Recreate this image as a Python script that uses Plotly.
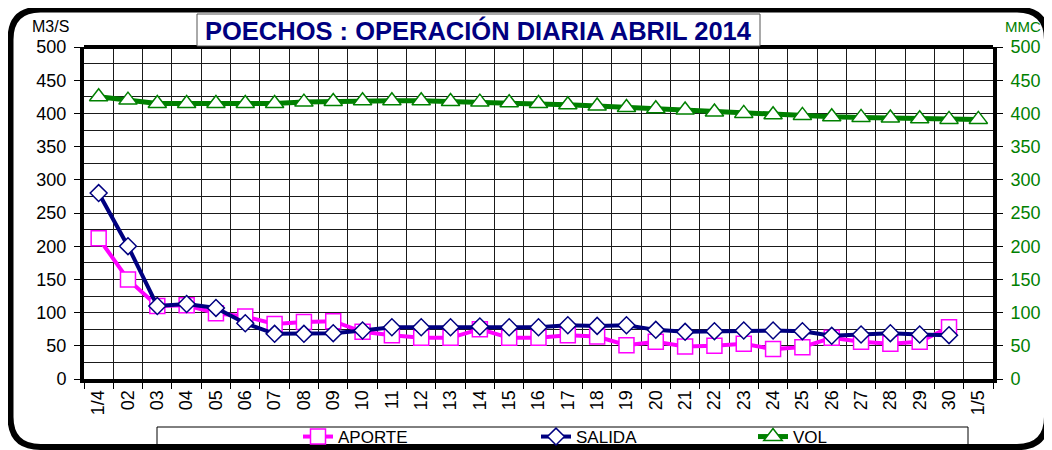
import plotly.graph_objects as go

categories = ["1/4"] + [f"{d:02d}" for d in range(2, 31)] + ["1/5"]
aporte = [212, 150, 110, 111, 99, 94, 83, 86, 87, 71, 66, 62, 62, 75, 62, 62, 66, 64, 51, 56, 49, 50, 53, 45, 48, 62, 56, 53, 56, 78]
salida = [280, 200, 110, 113, 107, 84, 68, 68, 69, 73, 78, 78, 78, 79, 78, 78, 81, 80, 81, 74, 71, 72, 73, 73, 72, 65, 67, 69, 67, 66]
vol = [425, 420, 415, 415, 415, 415, 415, 417, 418, 419, 419, 419, 418, 417, 416, 415, 413, 411, 409, 407, 405, 402, 400, 398, 397, 395, 394, 393, 392, 391, 391]

# page has an 8px body margin: figure drawn at (8, 8)
OFF = 8
W, H = 1052 - OFF, 450 - OFF
# plot area in page pixels
PL, PR, PT, PB = 84, 993, 47, 379
L, R, T, B = PL - OFF, PR - OFF, PT - OFF, PB - OFF

def px(x):  # page x -> paper
    return (x - PL) / (PR - PL)

def py(y):  # page y -> paper
    return (PB - y) / (PB - PT)

FONT = "Liberation Sans, Arial, sans-serif"

fig = go.Figure()
fig.add_trace(go.Scatter(
    x=categories[:len(aporte)], y=aporte, name="APORTE", mode="lines+markers", legend="legend",
    line=dict(color="#FF00FF", width=4),
    marker=dict(symbol="square", size=15, color="white", line=dict(color="#FF00FF", width=1.5)),
))
fig.add_trace(go.Scatter(
    x=categories[:len(salida)], y=salida, name="SALIDA", mode="lines+markers", legend="legend2",
    line=dict(color="#000080", width=4),
    marker=dict(symbol="diamond", size=13, color="white", line=dict(color="#000080", width=1.5)),
))
fig.add_trace(go.Scatter(
    x=categories[:len(vol)], y=vol, name="VOL", mode="lines+markers", yaxis="y2", legend="legend3",
    line=dict(color="#008000", width=5),
    marker=dict(symbol="triangle-up", size=16, color="white", line=dict(color="#008000", width=1.5)),
))

def leg(xpage):
    return dict(orientation="h", x=px(xpage), xanchor="left", y=py(437), yanchor="middle",
                font=dict(size=17, family=FONT, color="black"),
                bgcolor="rgba(0,0,0,0)", itemwidth=30)

fig.update_layout(
    width=W, height=H,
    margin=dict(l=L, r=W - R, t=T, b=H - B, autoexpand=False),
    paper_bgcolor="white", plot_bgcolor="white",
    font=dict(family=FONT, color="black"),
    showlegend=True,
    legend=leg(298), legend2=leg(536), legend3=leg(753),
    xaxis=dict(type="category", categoryorder="array", categoryarray=categories,
               range=[-0.5, len(categories) - 0.5], automargin=False,
               tickson="boundaries", ticks="outside", ticklen=6, tickcolor="black",
               tickangle=-90, tickfont=dict(size=18, color="black"),
               showgrid=True, gridcolor="#1a1a1a", gridwidth=1,
               showline=True, linecolor="black", linewidth=4, mirror=False, zeroline=False),
    yaxis=dict(range=[0, 500], dtick=50, ticks="outside", ticklen=6, tickcolor="black",
               tickfont=dict(size=18, color="black"), automargin=False,
               showline=True, linecolor="black", linewidth=4, zeroline=False,
               showgrid=True, gridcolor="#1a1a1a", gridwidth=1,
               minor=dict(dtick=25, showgrid=True, gridcolor="#1a1a1a", gridwidth=1),
               ticklabelstandoff=4),
    yaxis2=dict(range=[0, 500], dtick=50, overlaying="y", side="right",
                ticks="outside", ticklen=6, tickcolor="black", automargin=False,
                tickfont=dict(size=18, color="#008000"),
                showline=True, linecolor="black", linewidth=4, showgrid=False, zeroline=False,
                ticklabelstandoff=4),
)

shapes = []
shapes.append(dict(type="line", xref="paper", yref="paper", x0=0, x1=1, y0=1, y1=1,
                   line=dict(color="black", width=4)))
fl, fr, ft, fb, rad = 10.5, 1047, 9.5, 447, 30
path = (f"M {px(fl)},{py(ft+rad)} Q {px(fl)},{py(ft)} {px(fl+rad)},{py(ft)} "
        f"L {px(fr-rad)},{py(ft)} Q {px(fr)},{py(ft)} {px(fr)},{py(ft+rad)} "
        f"L {px(fr)},{py(fb-rad)} Q {px(fr)},{py(fb)} {px(fr-rad)},{py(fb)} "
        f"L {px(fl+rad)},{py(fb)} Q {px(fl)},{py(fb)} {px(fl)},{py(fb-rad)} Z")
shapes.append(dict(type="path", xref="paper", yref="paper", path=path,
                   line=dict(color="black", width=6), layer="above"))
shapes.append(dict(type="rect", xref="paper", yref="paper",
                   x0=px(197), x1=px(760), y0=py(46), y1=py(14),
                   fillcolor="white", line=dict(color="#555555", width=1), layer="above"))
shapes.append(dict(type="rect", xref="paper", yref="paper",
                   x0=px(157), x1=px(968), y0=py(449), y1=py(427),
                   fillcolor="rgba(0,0,0,0)", line=dict(color="black", width=1), layer="below"))
fig.update_layout(shapes=shapes)

fig.add_annotation(text="<b>POECHOS : OPERACIÓN DIARIA ABRIL 2014</b>", xref="paper", yref="paper",
                   x=px(478), y=py(30), xanchor="center", yanchor="middle", showarrow=False,
                   font=dict(size=25.5, color="#000080", family=FONT))
fig.add_annotation(text="M3/S", xref="paper", yref="paper", x=px(50), y=py(26),
                   xanchor="center", yanchor="middle", showarrow=False,
                   font=dict(size=16, color="black", family=FONT))
fig.add_annotation(text="MMC", xref="paper", yref="paper", x=px(1023), y=py(27),
                   xanchor="center", yanchor="middle", showarrow=False,
                   font=dict(size=15, color="#008000", family=FONT))

fig.write_html("out.html")
